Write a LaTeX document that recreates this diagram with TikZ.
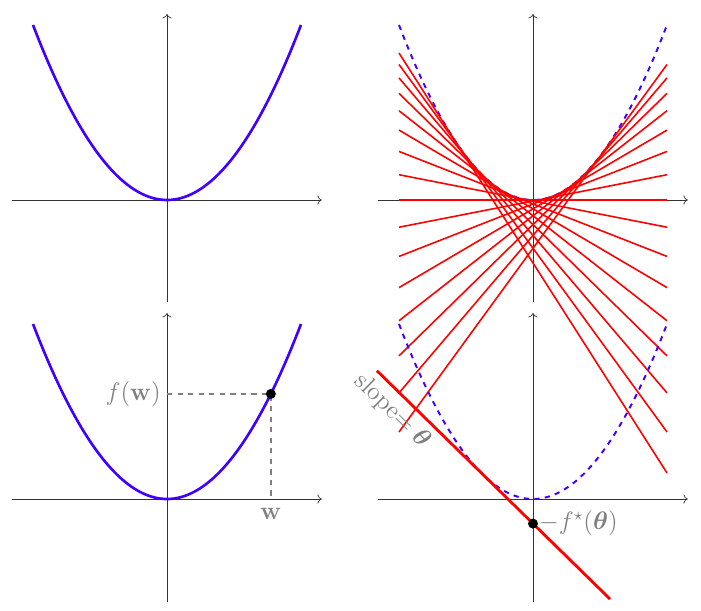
\documentclass[tikz,border=0pt]{standalone}
\usepackage{amsmath,amssymb}
\usepackage{tikz}
\usetikzlibrary{arrows.meta, calc}

\definecolor{tim}{RGB}{64,0,255}

\begin{document}
\begin{tikzpicture}[x=1.34cm, y=0.875cm, font=\Large,
    truc/.style={->, black!80, thin},
    parab/.style={tim, line width=1.5pt, domain=-2:2, samples=60, smooth},
    netdut/.style={parab, line width=1.1pt, dashed},
    tiep/.style={red, line width=0.9pt},
    chu/.style={text=gray}]
    \useasboundingbox (0cm,0cm) rectangle (14.02cm,-12.22cm);

    % Góc trên bên trái: đồ thị hàm lồi
    \begin{scope}[shift={(3.34cm,-4cm)}]
        \draw[truc] (-2.31,0) -- (2.31,0);
        \draw[truc] (0,-2.33) -- (0,4.25);
        \draw[parab] plot (\x, {\x*\x});
    \end{scope}

    % Góc trên bên phải: họ các tiếp tuyến
    \begin{scope}[shift={(10.66cm,-4cm)}]
        \draw[truc] (-2.31,0) -- (2.31,0);
        \draw[truc] (0,-2.33) -- (0,4.25);
        \draw[netdut] plot (\x, {\x*\x});
        \foreach \i in {-8,...,7} {
            \pgfmathsetmacro\s{0.15*\i}
            \draw[tiep] (-2, {-4*(\s)-(\s)*(\s)}) -- (2, {4*(\s)-(\s)*(\s)});
        }
    \end{scope}

    % Góc dưới bên trái: điểm (w, f(w))
    \begin{scope}[shift={(3.34cm,-9.98cm)}]
        \draw[truc] (-2.31,0) -- (2.31,0);
        \draw[truc] (0,-2.35) -- (0,4.25);
        \draw[parab] plot (\x, {\x*\x});
        \coordinate (W) at (1.55, 2.4025);
        \coordinate (Wy) at (0, 2.4025);
        \coordinate (Wx) at (1.55, 0);
        \draw[gray, thick, dashed] (Wy) -- (W) -- (Wx);
        \node[chu, left] (fw) at (Wy) {$f(\mathbf{w})$};
        \node[chu, below, yshift=-2pt] (w) at (Wx) {$\mathbf{w}$};
        \fill (W) circle (0.1cm);
    \end{scope}

    % Góc dưới bên phải: tiếp tuyến có hệ số góc theta
    \begin{scope}[shift={(10.66cm,-9.98cm)}]
        \draw[truc] (-2.31,0) -- (2.31,0);
        \draw[truc] (0,-2.35) -- (0,4.25);
        \draw[netdut] plot (\x, {\x*\x});
        \coordinate (A) at (-2.33, {1.5*2.33-0.5625});
        \coordinate (B) at (1.15, {-1.5*1.15-0.5625});
        \coordinate (C) at (0, -0.5625);
        \draw[red, line width=1.6pt] (A) -- node[chu, pos=0.12, below, sloped] (slope) {slope$=\boldsymbol{\theta}$} (B);
        \fill (C) circle (0.1cm);
        \node[chu, right] (fstar) at (C) {$-f^{\star}(\boldsymbol{\theta})$};
    \end{scope}

\end{tikzpicture}
\end{document}
